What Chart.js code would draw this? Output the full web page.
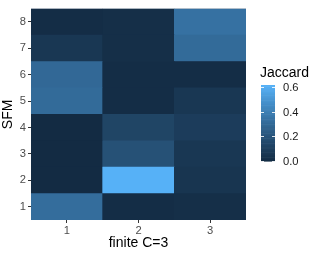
<!DOCTYPE html>
<html>
<head>
<meta charset="utf-8">
<script src="https://cdn.jsdelivr.net/npm/chart.js@4"></script>
<style>
  html, body { margin: 0; padding: 0; background: #fff; }
  #wrap { width: 320px; height: 256px; }
</style>
</head>
<body>
<div id="wrap"><canvas id="myChart" width="320" height="256"></canvas></div>
<script>
// columns of the heatmap (finite C=3), values listed for SFM rows 1..8
const xLabels = ["1", "2", "3"];
const yLabels = [1, 2, 3, 4, 5, 6, 7, 8];
const col1 = [0.32, 0.00, 0.00, 0.00, 0.31, 0.30, 0.06, 0.01];
const col2 = [0.01, 0.615, 0.19, 0.13, 0.01, 0.01, 0.02, 0.02];
const col3 = [0.02, 0.05, 0.06, 0.09, 0.06, 0.01, 0.31, 0.34];
const legendBreaks = [0.0, 0.2, 0.4, 0.6];

const columns = [col1, col2, col3];
const allVals = col1.concat(col2, col3);
const vmin = Math.min(...allVals);
const vmax = Math.max(...allVals);

// ggplot-like gradient (#132B43 -> #56B1F7), interpolated in Lab
function toLin(c) { c /= 255; return c <= 0.04045 ? c / 12.92 : Math.pow((c + 0.055) / 1.055, 2.4); }
function fromLin(c) { c = c <= 0.0031308 ? 12.92 * c : 1.055 * Math.pow(c, 1 / 2.4) - 0.055; return Math.max(0, Math.min(255, Math.round(c * 255))); }
function rgb2lab(rgb) {
  const r = toLin(rgb[0]), g = toLin(rgb[1]), b = toLin(rgb[2]);
  const x = (0.4124 * r + 0.3576 * g + 0.1805 * b) / 0.95047;
  const y = (0.2126 * r + 0.7152 * g + 0.0722 * b);
  const z = (0.0193 * r + 0.1192 * g + 0.9505 * b) / 1.08883;
  const f = t => t > 0.008856 ? Math.cbrt(t) : 7.787 * t + 16 / 116;
  const fx = f(x), fy = f(y), fz = f(z);
  return [116 * fy - 16, 500 * (fx - fy), 200 * (fy - fz)];
}
function lab2rgb(lab) {
  const fy = (lab[0] + 16) / 116, fx = fy + lab[1] / 500, fz = fy - lab[2] / 200;
  const finv = t => t > 0.206893 ? t * t * t : (t - 16 / 116) / 7.787;
  const x = finv(fx) * 0.95047, y = finv(fy), z = finv(fz) * 1.08883;
  const r = 3.2406 * x - 1.5372 * y - 0.4986 * z;
  const g = -0.9689 * x + 1.8758 * y + 0.0415 * z;
  const b = 0.0557 * x - 0.2040 * y + 1.0570 * z;
  return [fromLin(r), fromLin(g), fromLin(b)];
}
const lowLab = rgb2lab([0x13, 0x2B, 0x43]);
const highLab = rgb2lab([0x56, 0xB1, 0xF7]);
function colorFor(v) {
  let t = (v - vmin) / (vmax - vmin);
  t = Math.max(0, Math.min(1, t));
  const lab = [0, 1, 2].map(i => lowLab[i] + t * (highLab[i] - lowLab[i]));
  const c = lab2rgb(lab);
  return "rgb(" + c[0] + "," + c[1] + "," + c[2] + ")";
}

// one dataset per SFM row, floating bars spanning row +- 0.5
let dataset_list = [];
for (let r = 0; r < yLabels.length; r++) {
  const row = yLabels[r];
  dataset_list.push({
    label: "SFM " + row,
    data: columns.map(() => [row - 0.5, row + 0.5]),
    backgroundColor: columns.map(col => colorFor(col[r])),
    borderWidth: 0,
    grouped: false,
    barPercentage: 1,
    categoryPercentage: 1,
  });
}

// panel fill under the tiles so the seams stay faint
const panelBg = {
  id: "panelBg",
  beforeDatasetsDraw(chart) {
    const a = chart.chartArea;
    chart.ctx.save();
    chart.ctx.fillStyle = "#2c4660";
    chart.ctx.fillRect(a.left, a.top, a.right - a.left, a.bottom - a.top);
    chart.ctx.restore();
  },
};

// colour bar legend on the right
const colorbar = {
  id: "colorbar",
  afterDraw(chart) {
    const c = chart.ctx;
    const x0 = 261, w = 14, top = 85, bottom = 161;
    const steps = 60;
    for (let i = 0; i < steps; i++) {
      const v = vmin + (i + 0.5) / steps * (vmax - vmin);
      const y1 = bottom - (i + 1) / steps * (bottom - top);
      c.fillStyle = colorFor(v);
      c.fillRect(x0, y1, w, (bottom - top) / steps + 0.6);
    }
    c.strokeStyle = "rgba(255,255,255,0.85)";
    c.lineWidth = 1;
    c.font = "11.2px 'Liberation Sans', Arial, sans-serif";
    c.fillStyle = "#1a1a1a";
    c.textAlign = "left";
    c.textBaseline = "middle";
    legendBreaks.forEach(b => {
      const y = Math.round(bottom - (b - vmin) / (vmax - vmin) * (bottom - top)) + 0.5;
      c.beginPath();
      c.moveTo(x0, y); c.lineTo(x0 + 3, y);
      c.moveTo(x0 + w - 3, y); c.lineTo(x0 + w, y);
      c.stroke();
      c.fillText(b.toFixed(1), 283, y);
    });
    c.font = "14px 'Liberation Sans', Arial, sans-serif";
    c.fillStyle = "#000";
    c.textBaseline = "alphabetic";
    c.fillText("Jaccard", 260, 77);
  },
};

const ctx = document.getElementById("myChart").getContext("2d");
var myChart = new Chart(ctx, {
  type: "bar",
  data: {
    labels: xLabels,
    datasets: dataset_list,
  },
  options: {
    responsive: false,
    animation: false,
    layout: { padding: { top: 4, right: 74, left: 0, bottom: 0 } },
    plugins: {
      legend: { display: false },
      tooltip: { enabled: false },
    },
    scales: {
      x: {
        offset: true,
        grid: { offset: false, drawOnChartArea: false, drawTicks: true, tickLength: 3, color: "#333333" },
        border: { display: false },
        ticks: { color: "#4d4d4d", padding: 1, font: { family: "'Liberation Sans', Arial, sans-serif", size: 11.2 } },
        title: {
          display: true,
          text: "finite C=3",
          color: "#000",
          padding: { top: 0, bottom: 4 },
          font: { family: "'Liberation Sans', Arial, sans-serif", size: 14 },
        },
        afterFit: axis => { axis.height = 36; },
      },
      y: {
        type: "linear",
        min: 0.5,
        max: 8.5,
        grid: { drawOnChartArea: false, drawTicks: true, tickLength: 3, color: "#333333" },
        border: { display: false },
        afterBuildTicks: axis => { axis.ticks = yLabels.map(v => ({ value: v })); },
        ticks: { color: "#4d4d4d", padding: 2, font: { family: "'Liberation Sans', Arial, sans-serif", size: 11.2 } },
        title: {
          display: true,
          text: "SFM",
          color: "#000",
          padding: { top: 0, bottom: 0 },
          font: { family: "'Liberation Sans', Arial, sans-serif", size: 14 },
        },
        afterFit: axis => { axis.width = 31; },
      },
    },
  },
  plugins: [panelBg, colorbar],
});
</script>
</body>
</html>
